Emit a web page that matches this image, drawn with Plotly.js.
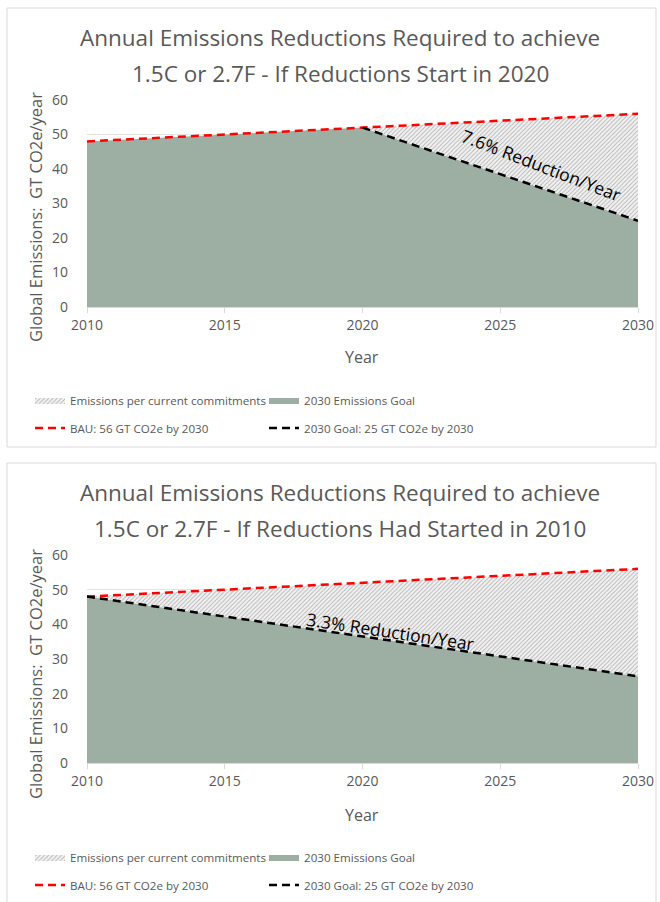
<!DOCTYPE html>
<html>
<head>
<meta charset="utf-8">
<script src="https://cdn.plot.ly/plotly-3.0.1.min.js"></script>
<style>
html,body{margin:0;padding:0;background:#fff;}
#chart{width:660px;height:902px;}
</style>
</head>
<body>
<div id="chart"></div>
<script>
// ---- data ----
const years = [2010, 2015, 2020, 2025, 2030];
const bau = [48, 50, 52, 54, 56];
const goalStart2020 = [48, 50, 52, 38.5, 25];
const goalLineYears2020 = [2020, 2025, 2030];
const goalLine2020 = [52, 38.5, 25];
const goalStart2010 = [48, 42.25, 36.5, 30.75, 25];
const xTicks = [2010, 2015, 2020, 2025, 2030];
const yTicks = [0, 10, 20, 30, 40, 50, 60];
const names = {
  hatch: "Emissions per current commitments",
  goalArea: "2030 Emissions Goal",
  bau: "BAU: 56 GT CO2e by 2030",
  goalLine: "2030 Goal: 25 GT CO2e by 2030"
};
const titles = [
  ["Annual Emissions Reductions Required to achieve", "1.5C or 2.7F - If Reductions Start in 2020"],
  ["Annual Emissions Reductions Required to achieve", "1.5C or 2.7F - If Reductions Had Started in 2010"]
];
const rateLabels = ["7.6% Reduction/Year", "3.3% Reduction/Year"];

// ---- styling ----
const W = 660, H = 902;
const FONT = "Open Sans, Noto Sans, sans-serif";
const TXT = "#595959";
const GREEN = "#9dafa2";
const py = p => 1 - p / H;
const px = p => p / W;

function chartTraces(goal, lineX, lineY, xa, ya, lgA, lgB) {
  return [
    {x: years, y: goal, type: "scatter", mode: "lines", fill: "tozeroy",
     fillcolor: GREEN, line: {width: 0, color: GREEN}, name: names.goalArea,
     xaxis: xa, yaxis: ya, legend: lgA, legendrank: 2, hoverinfo: "skip"},
    {x: years, y: bau, type: "scatter", mode: "lines", fill: "tonexty",
     fillcolor: "rgba(0,0,0,0)",
     fillpattern: {shape: "/", fgcolor: "#b3b3b3", bgcolor: "#f3f3f3", size: 3, solidity: 0.3},
     line: {width: 0, color: "#bfbfbf"}, name: names.hatch,
     xaxis: xa, yaxis: ya, legend: lgA, legendrank: 1, hoverinfo: "skip"},
    {x: years, y: bau, type: "scatter", mode: "lines",
     line: {color: "#ff0000", width: 2.5, dash: "8px,5px"}, name: names.bau,
     xaxis: xa, yaxis: ya, legend: lgB, legendrank: 3},
    {x: lineX, y: lineY, type: "scatter", mode: "lines",
     line: {color: "#000000", width: 2.5, dash: "8px,5px"}, name: names.goalLine,
     xaxis: xa, yaxis: ya, legend: lgB, legendrank: 4}
  ];
}

const data = [].concat(
  chartTraces(goalStart2020, goalLineYears2020, goalLine2020, "x", "y", "legend", "legend2"),
  chartTraces(goalStart2010, years, goalStart2010, "x2", "y2", "legend3", "legend4")
);

function xAxis(dom, anchor) {
  return {domain: dom, anchor: anchor, range: [2010, 2030], tickvals: xTicks,
    showgrid: false, showline: true, linecolor: "#d9d9d9", linewidth: 1,
    ticks: "outside", ticklen: 5, tickcolor: "#d9d9d9", zeroline: false,
    tickfont: {family: FONT, size: 14, color: TXT}, fixedrange: true};
}
function yAxis(dom, anchor) {
  return {domain: dom, anchor: anchor, range: [0, 60], tickvals: yTicks,
    showgrid: true, gridcolor: "#e3e3e3", gridwidth: 1, zeroline: false,
    showline: false, ticks: "", ticklabelstandoff: 18,
    tickfont: {family: FONT, size: 14, color: TXT}, fixedrange: true};
}

function legendCfg(yTop, entry) {
  return {orientation: "h", x: px(30), xanchor: "left", y: py(yTop), yanchor: "middle",
    entrywidth: entry, entrywidthmode: "pixels", traceorder: "normal",
    font: {family: FONT, size: 11.6, color: TXT}, bgcolor: "rgba(0,0,0,0)",
    itemwidth: 30, tracegroupgap: 0};
}

const plotX = [px(87), px(638)];

function titleAnns(lines, y1, y2) {
  return [
    {text: lines[0], xref: "paper", yref: "paper", x: px(340), y: py(y1), showarrow: false,
     xanchor: "center", yanchor: "middle", font: {family: FONT, size: 22.5, color: TXT}},
    {text: lines[1], xref: "paper", yref: "paper", x: px(340), y: py(y2), showarrow: false,
     xanchor: "center", yanchor: "middle", font: {family: FONT, size: 22.5, color: TXT}}
  ];
}
function axisAnns(yearY, ylabY) {
  return [
    {text: "Year", xref: "paper", yref: "paper", x: (plotX[0] + plotX[1]) / 2, y: py(yearY),
     showarrow: false, xanchor: "center", yanchor: "middle", font: {family: FONT, size: 16, color: TXT}},
    {text: "Global Emissions:  GT CO2e/year", xref: "paper", yref: "paper", x: px(35), y: py(ylabY),
     showarrow: false, textangle: -90, xanchor: "center", yanchor: "middle",
     font: {family: FONT, size: 16.5, color: TXT}}
  ];
}

const annotations = [].concat(
  titleAnns(titles[0], 38, 73),
  axisAnns(357, 217),
  [{text: rateLabels[0], xref: "x", yref: "y", x: 2026.5, y: 41.2, showarrow: false,
    textangle: 21, font: {family: FONT, size: 17.5, color: "#000"}}],
  titleAnns(titles[1], 493, 528),
  axisAnns(815, 674),
  [{text: rateLabels[1], xref: "x2", yref: "y2", x: 2021.0, y: 38.2, showarrow: false,
    textangle: 8.5, font: {family: FONT, size: 17.5, color: "#000"}}]
);

const shapes = [
  {type: "rect", xref: "paper", yref: "paper", x0: px(7), x1: px(656), y0: py(447), y1: py(8),
   line: {color: "#d9d9d9", width: 1}, fillcolor: "rgba(0,0,0,0)"},
  {type: "rect", xref: "paper", yref: "paper", x0: px(7), x1: px(656), y0: py(905), y1: py(463),
   line: {color: "#d9d9d9", width: 1}, fillcolor: "rgba(0,0,0,0)"}
];

const layout = {
  width: W, height: H, margin: {l: 0, r: 0, t: 0, b: 0},
  paper_bgcolor: "#ffffff", plot_bgcolor: "#ffffff",
  showlegend: true,
  xaxis: xAxis(plotX, "y"),
  yaxis: yAxis([py(307), py(100)], "x"),
  xaxis2: xAxis(plotX, "y2"),
  yaxis2: yAxis([py(763), py(555)], "x2"),
  legend: legendCfg(400, 189),
  legend2: legendCfg(428, 189),
  legend3: legendCfg(857, 189),
  legend4: legendCfg(885, 189),
  annotations: annotations,
  shapes: shapes,
  hovermode: false
};

Plotly.newPlot("chart", data, layout, {displayModeBar: false, staticPlot: true});
</script>
</body>
</html>
